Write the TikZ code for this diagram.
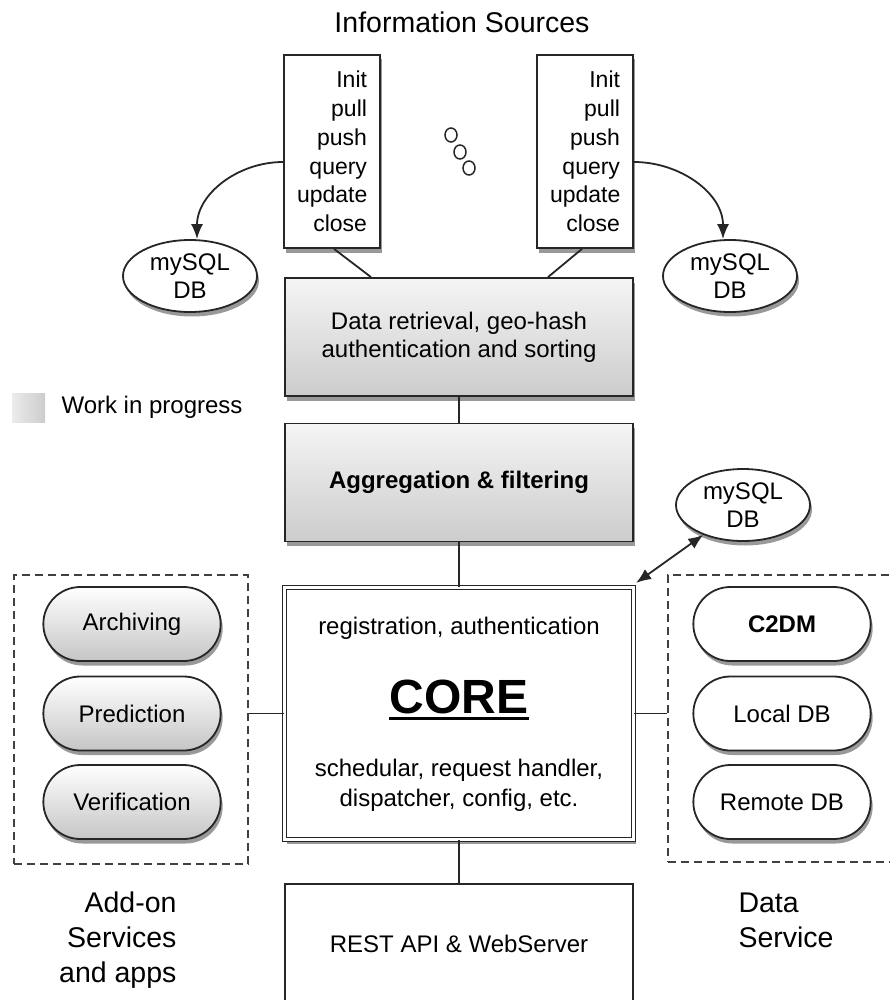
\documentclass[tikz,border=0pt]{standalone}
\usepackage{fontspec}
\setmainfont{Liberation Sans}
\usetikzlibrary{shapes.geometric,shapes.misc,shadows,arrows.meta}

\begin{document}
\begin{tikzpicture}[x=1pt,y=-1pt,
		txt/.style={font=\fontsize{24}{28}\selectfont},
		big/.style={font=\fontsize{28.5}{35}\selectfont},
		shd/.style={drop shadow={shadow xshift=2pt,shadow yshift=-4.5pt,opacity=0.4,fill=black}},
		link/.style={draw=black!85,line width=1.8pt},
		arr/.style={link,-{Latex[length=15pt,width=12pt]}},
		dblarr/.style={link,{Latex[length=15pt,width=12pt]}-{Latex[length=15pt,width=12pt]}},
		srcbox/.style={draw=black!85,line width=1.8pt,fill=white,minimum width=96pt,minimum height=193pt,
			text width=70pt,align=right,inner sep=0pt,font=\fontsize{23}{28.7}\selectfont,shd},
		procbox/.style={draw=black!85,line width=1.8pt,top color=gray!8,bottom color=gray!40,
			minimum width=348pt,minimum height=118pt,align=center,txt,shd},
		plainbox/.style={draw=black!85,line width=1.8pt,fill=white,minimum width=348pt,align=center,txt},
		dbell/.style={ellipse,draw=black!85,line width=1.8pt,fill=white,minimum width=134pt,minimum height=72pt,
			inner sep=0pt,align=center,txt,shd},
		pill/.style={rounded rectangle,draw=black!85,line width=1.8pt,minimum width=184pt,minimum height=74pt,txt,shd},
		graypill/.style={pill,top color=white,bottom color=gray!45},
		whitepill/.style={pill,fill=white},
		dashbox/.style={draw=black!75,line width=1.8pt,dash pattern=on 8pt off 5pt},
		dotc/.style={ellipse,draw=black!85,line width=1.5pt,minimum width=12pt,minimum height=14pt,inner sep=0pt}]
	\useasboundingbox (0,0) rectangle (890,1000);
	\clip (0,0) rectangle (890,1000);

	% Information sources
	\node[big] (title) at (462,22) {Information Sources};
	\node[srcbox] (srcL) at (332,151.5) {Init\\pull\\push\\query\\update\\close};
	\node[srcbox] (srcR) at (585,151.5) {Init\\pull\\push\\query\\update\\close};
	\node[dotc] (dotA) at (451,135) {};
	\node[dotc] (dotB) at (460,152) {};
	\node[dotc] (dotC) at (469,168) {};

	% Local databases
	\node[dbell] (dbL) at (190,276) {mySQL\\DB};
	\node[dbell] (dbR) at (730,276) {mySQL\\DB};
	\draw[arr] ([yshift=-10.5pt]srcL.west) to[out=180,in=90] ([xshift=7pt]dbL.north);
	\draw[arr] ([yshift=-10.5pt]srcR.east) to[out=0,in=90] ([xshift=-7pt]dbR.north);

	% Processing chain
	\node[procbox] (retrieve) at (459,337) {Data retrieval, geo-hash\\authentication and sorting};
	\node[procbox,font=\bfseries\fontsize{24}{28}\selectfont] (aggr) at (459,482.5) {Aggregation \& filtering};
	\draw[link] ([xshift=2pt]srcL.south) -- ([xshift=-88pt]retrieve.north);
	\draw[link] ([xshift=-3pt]srcR.south) -- ([xshift=89pt]retrieve.north);
	\draw[link] (retrieve.south) -- (aggr.north);

	% Legend
	\node[inner sep=0pt,minimum width=33pt,minimum height=29pt,left color=gray!15,right color=gray!40] (wipSwatch) at (28.5,407.5) {};
	\node[txt,anchor=west] (wipLbl) at (58,407) {Work in progress};

	% Core
	\node[draw=black!85,line width=1.2pt,double,double distance=3pt,fill=white,minimum width=349pt,minimum height=252pt,shd] (core) at (459,713.5) {};
	\node[txt] (coreReg) at (459,628) {registration, authentication};
	\node[font=\bfseries\fontsize{48}{56}\selectfont,inner sep=0pt] (coreName) at (459,697) {CORE};
	\draw[line width=2.5pt] ([yshift=-5pt]coreName.base west) -- ([yshift=-5pt]coreName.base east);
	\node[font=\fontsize{24}{30}\selectfont,align=center] (coreSub) at (459,785) {schedular, request handler,\\dispatcher, config, etc.};
	\draw[link] (aggr.south) -- (core.north);

	% Core database
	\node[dbell] (dbC) at (743,505) {mySQL\\DB};
	\draw[dblarr] ([shift={(2pt,4pt)}]core.north east) -- (dbC.217);

	% Add-on services
	\node[dashbox,minimum width=234pt,minimum height=289pt] (addon) at (131,719.5) {};
	\node[graypill] (archiv) at (132,624) {Archiving};
	\node[graypill] (predict) at (132,713.5) {Prediction};
	\node[graypill] (verify) at (132,802) {Verification};
	\node[big,align=right,anchor=east] (addonLbl) at (180,940) {Add-on\\Services\\and apps};
	\draw[link] (core.west) -- (core.west -| addon.east);

	% Data service
	\node[dashbox,minimum width=240pt,minimum height=287pt] (dataSrv) at (788,718.5) {};
	\node[whitepill,font=\bfseries\fontsize{24}{28}\selectfont] (c2dm) at (782,624) {C2DM};
	\node[whitepill] (localDb) at (782,713.5) {Local DB};
	\node[whitepill] (remoteDb) at (782,802) {Remote DB};
	\node[big,align=left,anchor=west] (dataLbl) at (735,920) {Data\\Service};
	\draw[link] (core.east) -- (core.east -| dataSrv.west);

	% Web server
	\node[plainbox,minimum height=120pt] (rest) at (459,944) {REST API \& WebServer};
	\draw[link] (core.south) -- (rest.north);
\end{tikzpicture}
\end{document}
